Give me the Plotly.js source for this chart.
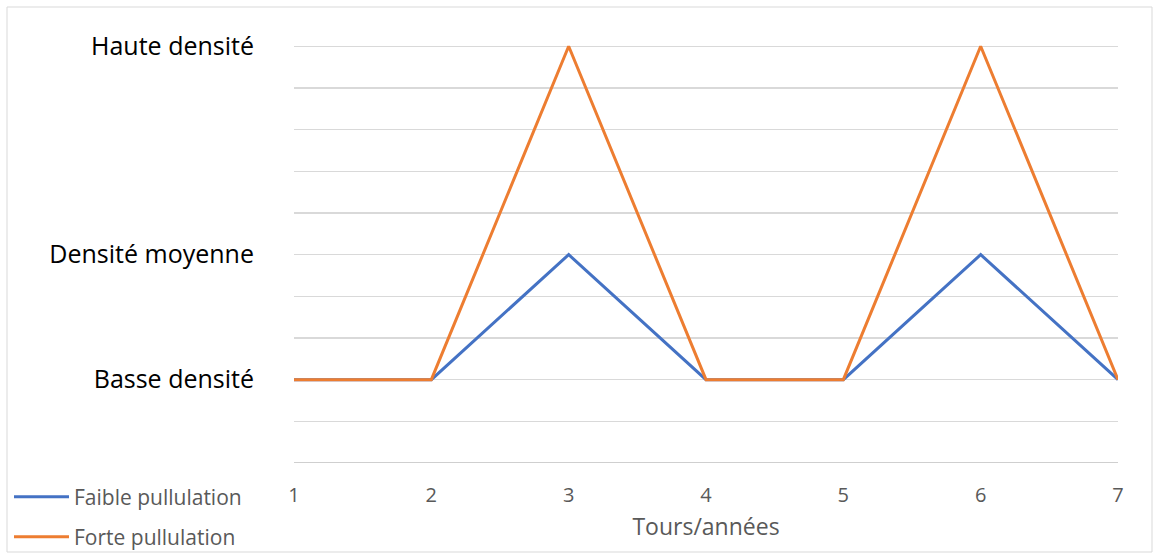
<!DOCTYPE html>
<html>
<head>
<meta charset="utf-8">
<script src="https://cdn.plot.ly/plotly-3.0.1.min.js"></script>
<style>html,body{margin:0;padding:0;background:#fff;}#chart{width:1154px;height:553px;}</style>
</head>
<body>
<div id="chart"></div>
<script>
const years = [1, 2, 3, 4, 5, 6, 7];
const faible = [2, 2, 5, 2, 2, 5, 2];
const forte = [2, 2, 10, 2, 2, 10, 2];
const yTickVals = [0, 1, 2, 3, 4, 5, 6, 7, 8, 9, 10];
const yTickText = ['', '', 'Basse densité', '', '', 'Densité moyenne', '', '', '', '', 'Haute densité'];
const seriesNames = ['Faible pullulation', 'Forte pullulation'];

const FONT = '"Open Sans", "Liberation Sans", sans-serif';
const traces = [
  {x: years, y: faible, name: seriesNames[0], mode: 'lines', line: {color: '#4472C4', width: 3}, legend: 'legend'},
  {x: years, y: forte, name: seriesNames[1], mode: 'lines', line: {color: '#ED7D31', width: 3}, legend: 'legend2'}
];
const legendCommon = {xref: 'container', yref: 'container', xanchor: 'left', yanchor: 'middle', itemwidth: 55,
  bgcolor: 'rgba(0,0,0,0)', font: {family: FONT, size: 21, color: '#595959'}};
const yTop = 10.03;
const layout = {
  width: 1154, height: 553,
  margin: {l: 294, r: 36, t: 45, b: 90},
  paper_bgcolor: '#fff', plot_bgcolor: '#fff',
  font: {family: FONT},
  showlegend: true,
  legend: Object.assign({x: 9 / 1154, y: (553 - 497) / 553}, legendCommon),
  legend2: Object.assign({x: 9 / 1154, y: (553 - 537) / 553}, legendCommon),
  xaxis: {
    range: [1, 7], tickvals: years, showgrid: false, zeroline: false, automargin: false,
    showline: false, ticks: '', ticklabelstandoff: 18,
    tickfont: {family: FONT, size: 20, color: '#595959'},
    title: {text: 'Tours/années', font: {family: FONT, size: 23, color: '#595959'}, standoff: 11}
  },
  yaxis: {
    range: [0, yTop], tickmode: 'array', tickvals: yTickVals, ticktext: yTickText,
    showgrid: true, gridcolor: '#d9d9d9', gridwidth: 1.3, zeroline: false, automargin: false,
    showline: false, ticks: '', ticklabelstandoff: 39,
    tickfont: {family: FONT, size: 25, color: '#000'}
  },
  shapes: [
    {type: 'line', xref: 'paper', yref: 'y', x0: 0, x1: 1, y0: 0, y1: 0, line: {color: '#bfbfbf', width: 1.5}, layer: 'below'},
    {type: 'rect', xref: 'paper', yref: 'paper', x0: (7 - 294) / 824, x1: (1152 - 294) / 824, y0: (463 - 552) / 418, y1: (463 - 7) / 418, line: {color: '#d9d9d9', width: 1}, fillcolor: 'rgba(0,0,0,0)'}
  ]
};
Plotly.newPlot('chart', traces, layout, {displayModeBar: false, staticPlot: true});
</script>
</body>
</html>
